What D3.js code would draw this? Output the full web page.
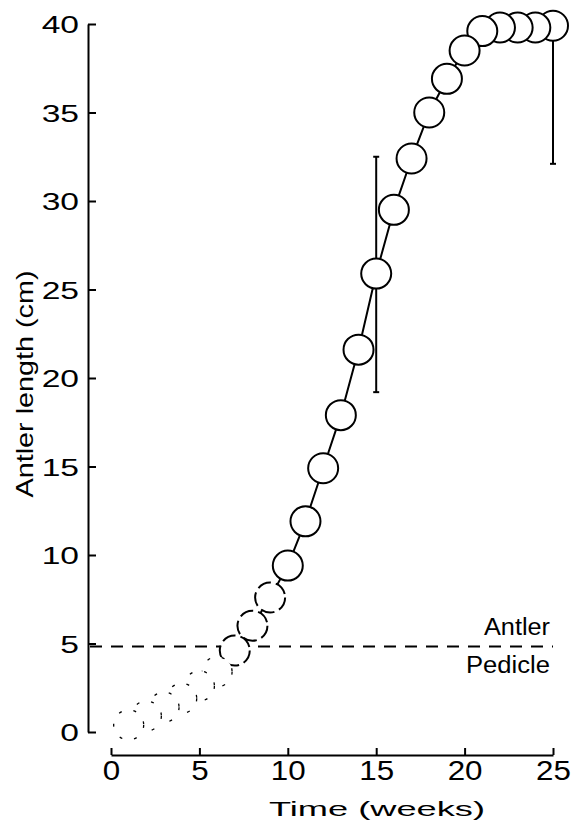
<!DOCTYPE html>
<html>
<head>
<meta charset="utf-8">
<script src="https://cdn.jsdelivr.net/npm/d3@7"></script>
<style>
  html, body { margin: 0; padding: 0; background: #fff; }
  svg { display: block; }
  text { font-family: "Liberation Sans", Arial, Helvetica, sans-serif; fill: #000; }
</style>
</head>
<body>
<svg id="chart" width="586" height="824"></svg>
<script>
// ---- data ----
const weeks   = [1, 2, 3, 4, 5, 6, 7, 8, 9, 10, 11, 12, 13, 14, 15, 16, 17, 18, 19, 20, 21, 22, 23, 24, 25];
const lengths = [0.4, 0.9, 1.4, 1.9, 2.6, 3.4, 4.6, 6.0, 7.6, 9.4, 11.9, 14.9, 17.9, 21.6, 25.9, 29.5, 32.4, 35.0, 36.9, 38.5, 39.6, 39.8, 39.8, 39.8, 39.9];
const errWeeks = [15, 25];
const errLow   = [19.2, 32.1];
const errHigh  = [32.5, 39.9];
const xTicks = [0, 5, 10, 15, 20, 25];
const yTicks = [0, 5, 10, 15, 20, 25, 30, 35, 40];
const boundaryValue = 5;
const boundaryLabels = ["Antler", "Pedicle"];
const xTitle = "Time (weeks)";
const yTitle = "Antler length (cm)";

// ---- chart ----
const svg = d3.select("#chart");
const x = d3.scaleLinear().domain([0, 25]).range([111, 553]);
const y = d3.scaleLinear().domain([0, 40]).range([732, 24]);
const yAxisX = 88, xAxisY = 755;

// Y axis
const yAxis = svg.append("g")
  .attr("transform", `translate(${yAxisX},0)`)
  .call(d3.axisLeft(y).tickValues(yTicks).tickSize(-8).tickSizeOuter(0).tickFormat(d3.format("d")));
yAxis.select(".domain").attr("stroke", "#000").attr("stroke-width", 2);
yAxis.selectAll(".tick line").attr("stroke", "#000").attr("stroke-width", 2);
yAxis.selectAll(".tick text")
  .attr("x", 0).attr("dy", "0.36em")
  .attr("transform", "translate(-9,0) scale(1.4,1)")
  .style("font-size", "24px").style("font-family", "'Liberation Sans', Arial, sans-serif");

// X axis
const xAxis = svg.append("g")
  .attr("transform", `translate(0,${xAxisY})`)
  .call(d3.axisBottom(x).tickValues(xTicks).tickSize(-7).tickSizeOuter(0).tickFormat(d3.format("d")));
xAxis.select(".domain").attr("stroke", "#000").attr("stroke-width", 2);
xAxis.selectAll(".tick line").attr("stroke", "#000").attr("stroke-width", 2);
xAxis.selectAll(".tick text")
  .attr("y", 25).attr("dy", 0)
  .attr("transform", "scale(1.12,1)")
  .style("font-size", "28px").style("font-family", "'Liberation Sans', Arial, sans-serif");

// Axis titles
svg.append("text")
  .attr("x", 377).attr("y", 816)
  .attr("text-anchor", "middle")
  .attr("textLength", 216).attr("lengthAdjust", "spacingAndGlyphs")
  .style("font-size", "21px")
  .text(xTitle);

svg.append("text")
  .attr("transform", "translate(33,384) rotate(-90)")
  .attr("text-anchor", "middle")
  .attr("textLength", 227).attr("lengthAdjust", "spacingAndGlyphs")
  .style("font-size", "24px")
  .text(yTitle);

// Antler / Pedicle boundary
svg.append("line")
  .attr("x1", yAxisX + 2).attr("x2", x(25))
  .attr("y1", y(boundaryValue) + 3).attr("y2", y(boundaryValue) + 3)
  .attr("stroke", "#000").attr("stroke-width", 2.2)
  .attr("stroke-dasharray", "12,9");
svg.append("text")
  .attr("x", 550).attr("y", y(boundaryValue) - 9)
  .attr("text-anchor", "end")
  .style("font-size", "23px")
  .attr("textLength", 66).attr("lengthAdjust", "spacingAndGlyphs")
  .text(boundaryLabels[0]);
svg.append("text")
  .attr("x", 550).attr("y", y(boundaryValue) + 29)
  .attr("text-anchor", "end")
  .style("font-size", "23px")
  .attr("textLength", 84).attr("lengthAdjust", "spacingAndGlyphs")
  .text(boundaryLabels[1]);

// Error bars
const errData = errWeeks.map((w, i) => ({ w, lo: errLow[i], hi: errHigh[i] }));
const eb = svg.append("g");
errData.forEach(d => {
  eb.append("line")
    .attr("x1", x(d.w)).attr("x2", x(d.w))
    .attr("y1", y(d.hi)).attr("y2", y(d.lo))
    .attr("stroke", "#000").attr("stroke-width", 2);
  [d.lo, d.hi].forEach(v => {
    eb.append("line")
      .attr("x1", x(d.w) - 3).attr("x2", x(d.w) + 3)
      .attr("y1", y(v)).attr("y2", y(v))
      .attr("stroke", "#000").attr("stroke-width", 2);
  });
});

// Growth line
const pts = weeks.map((w, i) => ({ w, v: lengths[i] }));
const line = d3.line().x(d => x(d.w)).y(d => y(d.v));
const faded = d => d.w < 7;
const early = pts.filter(d => d.w <= 7);
const late = pts.filter(d => d.w >= 7);
svg.append("path").attr("d", line(early))
  .attr("fill", "none").attr("stroke", "#000").attr("stroke-width", 1.2)
  .attr("stroke-dasharray", "2,16");
svg.append("path").attr("d", line(late))
  .attr("fill", "none").attr("stroke", "#000").attr("stroke-width", 2);

// Circles (latest drawn first so earlier ones sit on top, like the reference)
svg.append("g").selectAll("circle")
  .data(pts.slice().reverse())
  .join("circle")
  .attr("cx", d => x(d.w))
  .attr("cy", d => y(d.v))
  .attr("r", 15)
  .attr("fill", "#fff")
  .attr("stroke", "#000")
  .attr("stroke-width", d => faded(d) ? 1.3 : 2)
  .attr("stroke-dasharray", d => faded(d) ? "3,12" : (d.w <= 9 ? "14,5" : null));
</script>
</body>
</html>
